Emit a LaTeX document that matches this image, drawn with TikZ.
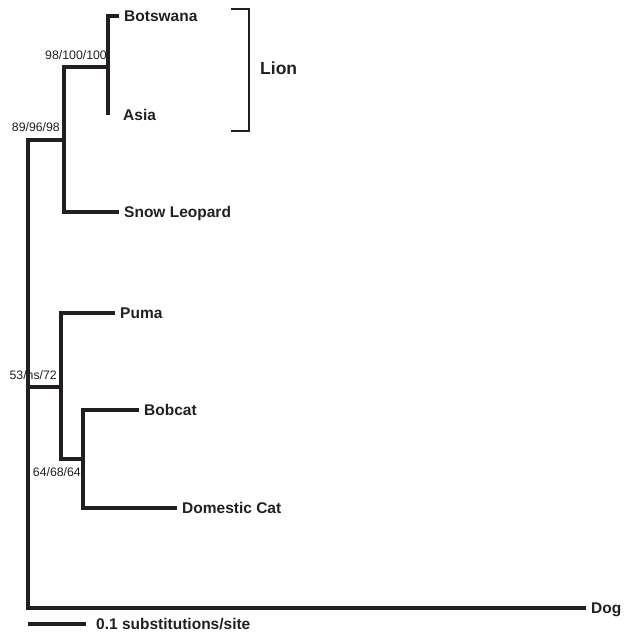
\documentclass[tikz,border=0pt]{standalone}
\usepackage{fontspec}
\setmainfont{Liberation Sans}
\usetikzlibrary{positioning}
\definecolor{ink}{RGB}{35,31,32}

\begin{document}
\begin{tikzpicture}[x=1pt, y=-1pt, color=ink,
		branch/.style={line width=3.3pt},
		taxon/.style={anchor=west, inner ysep=0pt, inner xsep=5pt, text height=11.1pt, text depth=0pt,
			font=\bfseries\fontsize{15.5}{18}\selectfont},
		support/.style={inner sep=0pt, text depth=0pt, font=\fontsize{12.3}{14}\selectfont}]
	\useasboundingbox (0,0) rectangle (627,632);
	% internal nodes
	\coordinate (rtop) at (28,140);
	\coordinate (pan) at (64,140);
	\coordinate (lion) at (108,67);
	\coordinate (asiatip) at (108,115);
	\coordinate (fel) at (61,387);
	\coordinate (cat) at (83,459);
	% tips
	\node[taxon] (botswana) at (119,16) {Botswana};
	\node[taxon, right=10pt of asiatip] (asia) {Asia};
	\node[taxon] (snow) at (119,212) {Snow Leopard};
	\node[taxon] (puma) at (115,313) {Puma};
	\node[taxon] (bobcat) at (139,410) {Bobcat};
	\node[taxon] (domestic) at (177,508) {Domestic Cat};
	\node[taxon] (dog) at (586,608) {Dog};
	% branches
	\draw[branch] (botswana.west) -| (asiatip);
	\draw[branch] (lion) -| (pan) |- (snow.west);
	\draw[branch] (pan) -- (rtop) |- (dog.west);
	\draw[branch] (rtop |- fel) -- (fel);
	\draw[branch] (puma.west) -| (fel) |- (cat);
	\draw[branch] (bobcat.west) -| (cat) |- (domestic.west);
	% support values
	\node[support, anchor=south east] (slion) at ([shift={(-1,-7)}]lion) {98/100/100};
	\node[support, anchor=south east] (span) at ([shift={(-4,-8)}]pan) {89/96/98};
	\node[support, anchor=south east] (sfel) at ([shift={(-4,-7)}]fel) {53/ns/72};
	\node[support, anchor=north east] (scat) at ([shift={(-2,8)}]cat) {64/68/64};
	% lion bracket
	\coordinate (btop) at (231,9);
	\coordinate (bbot) at (231,131);
	\draw[line width=2.2pt] (btop) -| (249,131) -- (bbot);
	\node[taxon, font=\bfseries\fontsize{17.5}{20}\selectfont, text height=12.5pt] (lionlab) at (255,68) {Lion};
	% scale bar
	\coordinate (bar0) at (28,624);
	\coordinate (bar1) at (86,624);
	\draw[branch] (bar0) -- (bar1);
	\node[taxon, inner xsep=10pt] (barlab) at (bar1) {0.1 substitutions/site};
\end{tikzpicture}
\end{document}
